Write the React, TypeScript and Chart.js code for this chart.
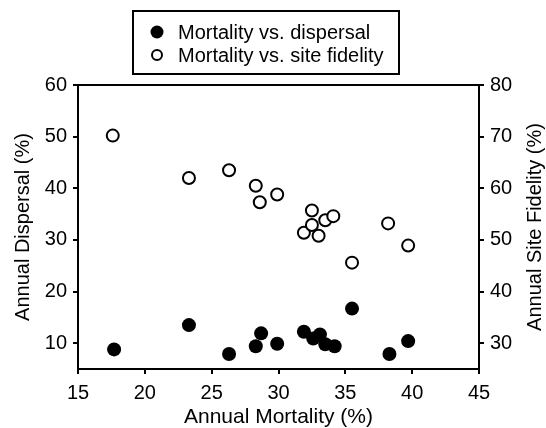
import { useEffect, useRef } from 'react';
import { Chart, registerables } from 'chart.js';
Chart.register(...registerables);

const DISPERSAL_MORTALITY = [17.7, 23.3, 26.3, 28.3, 28.7, 29.9, 31.9, 32.6, 33.1, 33.5, 34.2, 35.5, 38.3, 39.7];
const DISPERSAL_VALUES = [8.8, 13.5, 7.9, 9.4, 11.9, 9.9, 12.2, 10.9, 11.7, 9.8, 9.4, 16.7, 7.9, 10.4];
const FIDELITY_MORTALITY = [17.6, 23.3, 26.3, 28.3, 28.6, 29.9, 31.9, 32.5, 32.5, 33.0, 33.5, 34.1, 35.5, 38.2, 39.7];
const FIDELITY_VALUES = [70.2, 62.0, 63.5, 60.5, 57.3, 58.8, 51.4, 55.7, 52.9, 50.8, 53.8, 54.6, 45.6, 53.2, 48.9];
const X_TICKS = [15, 20, 25, 30, 35, 40, 45];
const LEFT_TICKS = [10, 20, 30, 40, 50, 60];
const RIGHT_TICKS = [30, 40, 50, 60, 70, 80];
const SERIES_LABELS = ['Mortality vs. dispersal', 'Mortality vs. site fidelity'];
const X_TITLE = 'Annual Mortality (%)';
const LEFT_TITLE = 'Annual Dispersal (%)';
const RIGHT_TITLE = 'Annual Site Fidelity (%)';

const FONT = "'Liberation Sans', Arial, Helvetica, sans-serif";

const decorPlugin = {
  id: 'decor',
  afterDraw(chart: any) {
    const ctx = chart.ctx;
    const ca = chart.chartArea;
    ctx.save();
    // top frame line
    ctx.strokeStyle = '#000';
    ctx.lineWidth = 2;
    ctx.beginPath();
    ctx.moveTo(ca.left - 1, ca.top);
    ctx.lineTo(ca.right + 1, ca.top);
    ctx.stroke();

    // right axis title, rotated to read bottom-to-top
    const y2 = chart.scales.y2;
    ctx.fillStyle = '#000';
    ctx.font = `20px ${FONT}`;
    ctx.textAlign = 'center';
    ctx.textBaseline = 'middle';
    ctx.translate(535, (ca.top + ca.bottom) / 2);
    ctx.rotate(-Math.PI / 2);
    ctx.fillText(y2.options.title.text, 0, 0);
    ctx.restore();

    // legend box
    ctx.save();
    const bx = 133, by = 11, bw = 266, bh = 63;
    ctx.strokeStyle = '#000';
    ctx.lineWidth = 2;
    ctx.strokeRect(bx, by, bw, bh);
    ctx.font = `20px ${FONT}`;
    ctx.textAlign = 'left';
    ctx.textBaseline = 'middle';
    ctx.fillStyle = '#000';
    const rows = [32, 55];
    chart.data.datasets.forEach((ds: any, i: number) => {
      const cy = rows[i];
      ctx.beginPath();
      if (i === 0) {
        ctx.arc(157, cy, 6.5, 0, Math.PI * 2);
        ctx.fillStyle = '#000';
        ctx.fill();
      } else {
        ctx.arc(157, cy, 5, 0, Math.PI * 2);
        ctx.fillStyle = '#fff';
        ctx.fill();
        ctx.lineWidth = 2;
        ctx.strokeStyle = '#000';
        ctx.stroke();
      }
      ctx.fillStyle = '#000';
      ctx.fillText(ds.label, 178, cy + 1);
    });
    ctx.restore();
  },
};

export default function App() {
  const ref = useRef<HTMLCanvasElement | null>(null);

  useEffect(() => {
    if (!ref.current) return;
    Chart.defaults.font.family = FONT;
    Chart.defaults.color = '#000';
    const chart = new Chart(ref.current, {
      type: 'scatter',
      data: {
        datasets: [
          {
            label: SERIES_LABELS[0],
            data: DISPERSAL_MORTALITY.map((x, i) => ({ x, y: DISPERSAL_VALUES[i] })),
            yAxisID: 'y',
            pointRadius: 7,
            pointHoverRadius: 7,
            backgroundColor: '#000',
            borderColor: '#000',
            borderWidth: 0,
          },
          {
            label: SERIES_LABELS[1],
            data: FIDELITY_MORTALITY.map((x, i) => ({ x, y: FIDELITY_VALUES[i] })),
            yAxisID: 'y2',
            pointRadius: 6,
            pointHoverRadius: 6,
            backgroundColor: '#fff',
            borderColor: '#000',
            borderWidth: 2,
          },
        ],
      },
      options: {
        responsive: true,
        maintainAspectRatio: false,
        animation: false,
        layout: { padding: { top: 85, left: 0, right: 0, bottom: 0 } },
        plugins: {
          legend: { display: false },
          tooltip: { enabled: false },
        },
        scales: {
          x: {
            type: 'linear',
            position: 'bottom',
            min: 15,
            max: 45,
            afterBuildTicks: (s: any) => { s.ticks = X_TICKS.map((v) => ({ value: v })); },
            afterFit: (s: any) => { s.height = 59; },
            grid: { drawOnChartArea: false, drawTicks: true, tickLength: 5, color: '#000', lineWidth: 2 },
            border: { display: true, color: '#000', width: 2 },
            ticks: { font: { size: 20, family: FONT }, color: '#000', padding: 7, maxRotation: 0 },
            title: { display: true, text: X_TITLE, font: { size: 21, family: FONT, lineHeight: 1 }, color: '#000', padding: { top: 0, bottom: 0 } },
          },
          y: {
            type: 'linear',
            position: 'left',
            min: 5,
            max: 60,
            afterBuildTicks: (s: any) => { s.ticks = LEFT_TICKS.map((v) => ({ value: v })); },
            afterFit: (s: any) => { s.width = 78; },
            grid: { drawOnChartArea: false, drawTicks: true, tickLength: 5, color: '#000', lineWidth: 2 },
            border: { display: true, color: '#000', width: 2 },
            ticks: { font: { size: 20, family: FONT }, color: '#000', padding: 6 },
            title: { display: true, text: LEFT_TITLE, font: { size: 20, family: FONT, lineHeight: 1 }, color: '#000', padding: { top: 13, bottom: 0 } },
          },
          y2: {
            type: 'linear',
            position: 'right',
            min: 25,
            max: 80,
            afterBuildTicks: (s: any) => { s.ticks = RIGHT_TICKS.map((v) => ({ value: v })); },
            afterFit: (s: any) => { s.width = 67; },
            grid: { drawOnChartArea: false, drawTicks: true, tickLength: 5, color: '#000', lineWidth: 2 },
            border: { display: true, color: '#000', width: 2 },
            ticks: { font: { size: 20, family: FONT }, color: '#000', padding: 6 },
            title: { display: false, text: RIGHT_TITLE },
          },
        },
      } as any,
      plugins: [decorPlugin],
    });
    return () => chart.destroy();
  }, []);

  return (
    <div style={{ position: 'absolute', left: 0, top: 0, width: 546, height: 428, background: '#fff' }}>
      <canvas ref={ref} />
    </div>
  );
}
